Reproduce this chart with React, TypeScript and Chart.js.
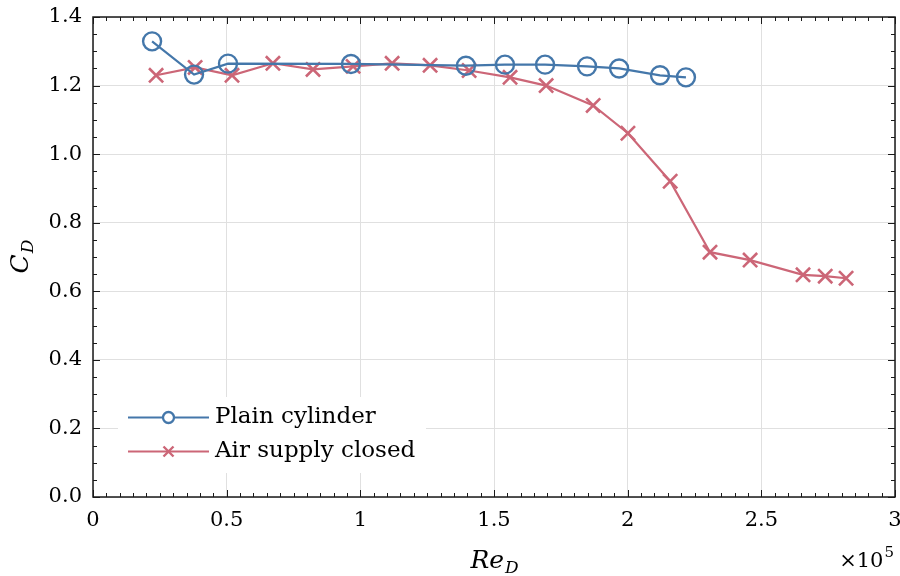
import React, { useEffect, useRef } from 'react';
import { Chart, registerables } from 'chart.js';

Chart.register(...registerables);

// ---- data ----
const plainRe = [22100, 37800, 50500, 96500, 139500, 154100, 169100, 184800, 196800, 212100, 221800];
const plainCd = [1.329, 1.232, 1.264, 1.263, 1.258, 1.261, 1.261, 1.256, 1.250, 1.230, 1.224];

const airRe = [23600, 38200, 52000, 67300, 82300, 97300, 111900, 126100, 140700, 156000, 169500, 187100, 200100, 215900, 230800, 245800, 265600, 273900, 281700];
const airCd = [1.230, 1.253, 1.230, 1.265, 1.247, 1.256, 1.265, 1.259, 1.244, 1.224, 1.200, 1.142, 1.061, 0.921, 0.714, 0.691, 0.648, 0.644, 0.638];

const seriesLabels = ['Plain cylinder', 'Air supply closed'];
const xMin = 0, xMax = 300000, xStep = 50000, xMinorStep = 5000;
const yMin = 0, yMax = 1.4, yStep = 0.2, yMinorStep = 0.05;
const xScaleExp = 5;

const BLUE = '#4477AA';
const RED = '#CC6677';
const AXIS = '#1a1a1a';
const TEXT = '#000000';
const SERIF = '"DejaVu Serif", serif';

const decorPlugin = {
  id: 'decor',
  afterDatasetsDraw(chart: any) {
    const { ctx, chartArea: a, scales } = chart;
    const x = scales.x, y = scales.y;
    ctx.save();

    // legend (white box, line + marker, text)
    const bx = a.left + 25, by = a.bottom - 100, bw = 308, bh = 76;
    ctx.fillStyle = '#ffffff';
    ctx.fillRect(bx, by, bw, bh);
    const rows = [
      { label: seriesLabels[0], color: BLUE, style: 'circle', yy: a.bottom - 79.5 },
      { label: seriesLabels[1], color: RED, style: 'cross', yy: a.bottom - 45.5 },
    ];
    rows.forEach((r) => {
      const x0 = a.left + 35, x1 = a.left + 116, xm = (x0 + x1) / 2;
      ctx.strokeStyle = r.color;
      ctx.lineWidth = 2;
      ctx.beginPath();
      ctx.moveTo(x0, r.yy);
      ctx.lineTo(x1, r.yy);
      ctx.stroke();
      if (r.style === 'circle') {
        ctx.fillStyle = '#ffffff';
        ctx.beginPath();
        ctx.arc(xm, r.yy, 5.5, 0, Math.PI * 2);
        ctx.fill();
        ctx.lineWidth = 2.3;
        ctx.stroke();
      } else {
        const d = 5;
        ctx.lineWidth = 2.4;
        ctx.beginPath();
        ctx.moveTo(xm - d, r.yy - d); ctx.lineTo(xm + d, r.yy + d);
        ctx.moveTo(xm + d, r.yy - d); ctx.lineTo(xm - d, r.yy + d);
        ctx.stroke();
      }
      ctx.fillStyle = TEXT;
      ctx.font = `23px ${SERIF}`;
      ctx.textAlign = 'left';
      ctx.textBaseline = 'middle';
      ctx.fillText(r.label, a.left + 122, r.yy);
    });

    // inward ticks
    ctx.strokeStyle = AXIS;
    ctx.lineWidth = 1;
    const nx = Math.round((xMax - xMin) / xMinorStep);
    for (let i = 0; i <= nx; i++) {
      const v = xMin + i * xMinorStep;
      const px = Math.round(x.getPixelForValue(v)) + 0.5;
      const len = i % Math.round(xStep / xMinorStep) === 0 ? 7 : 4;
      ctx.beginPath();
      ctx.moveTo(px, a.bottom); ctx.lineTo(px, a.bottom - len);
      ctx.moveTo(px, a.top); ctx.lineTo(px, a.top + len);
      ctx.stroke();
    }
    const ny = Math.round((yMax - yMin) / yMinorStep);
    for (let i = 0; i <= ny; i++) {
      const v = yMin + i * yMinorStep;
      const py = Math.round(y.getPixelForValue(v)) + 0.5;
      const len = i % Math.round(yStep / yMinorStep) === 0 ? 7 : 4;
      ctx.beginPath();
      ctx.moveTo(a.left, py); ctx.lineTo(a.left + len, py);
      ctx.moveTo(a.right, py); ctx.lineTo(a.right - len, py);
      ctx.stroke();
    }

    // frame
    ctx.lineWidth = 1.5;
    ctx.strokeRect(a.left, a.top, a.right - a.left, a.bottom - a.top);

    // axis titles
    ctx.fillStyle = TEXT;
    ctx.textBaseline = 'alphabetic';
    ctx.textAlign = 'left';
    const mainF = `italic 25px ${SERIF}`;
    const subF = `italic 17px ${SERIF}`;
    // x title: Re_D
    ctx.font = mainF;
    const wRe = ctx.measureText('Re').width;
    ctx.font = subF;
    const wD = ctx.measureText('D').width;
    const cx = (a.left + a.right) / 2;
    const sx = cx - (wRe + wD) / 2;
    ctx.font = mainF;
    ctx.fillText('Re', sx, a.bottom + 71);
    ctx.font = subF;
    ctx.fillText('D', sx + wRe + 1, a.bottom + 76);

    // y title: C_D
    ctx.save();
    ctx.translate(28, (a.top + a.bottom) / 2);
    ctx.rotate(-Math.PI / 2);
    ctx.font = mainF;
    const wC = ctx.measureText('C').width;
    const sy = -(wC + wD) / 2;
    ctx.fillText('C', sy, 0);
    ctx.font = subF;
    ctx.fillText('D', sy + wC + 1, 5);
    ctx.restore();

    // exponent label
    ctx.font = `15px ${SERIF}`;
    const w5 = ctx.measureText(String(xScaleExp)).width;
    ctx.textAlign = 'right';
    ctx.fillText(String(xScaleExp), a.right - 1, a.bottom + 60);
    ctx.font = `21px ${SERIF}`;
    ctx.fillText('\u00d710', a.right - 2 - w5, a.bottom + 70);

    ctx.restore();
  },
};

export default function App() {
  const ref = useRef<HTMLCanvasElement | null>(null);

  useEffect(() => {
    document.body.style.margin = '0';
    if (!ref.current) return;
    const chart = new Chart(ref.current, {
      type: 'line',
      data: {
        datasets: [
          {
            label: seriesLabels[0],
            data: plainRe.map((v, i) => ({ x: v, y: plainCd[i] })),
            borderColor: BLUE,
            backgroundColor: 'rgba(0,0,0,0)',
            borderWidth: 2.2,
            pointStyle: 'circle',
            pointRadius: 9,
            pointBorderWidth: 2.4,
            pointBorderColor: BLUE,
            pointBackgroundColor: 'rgba(0,0,0,0)',
            tension: 0,
          },
          {
            label: seriesLabels[1],
            data: airRe.map((v, i) => ({ x: v, y: airCd[i] })),
            borderColor: RED,
            backgroundColor: RED,
            borderWidth: 2.2,
            pointStyle: 'crossRot',
            pointRadius: 10,
            pointBorderWidth: 2.6,
            pointBorderColor: RED,
            tension: 0,
          },
        ],
      },
      options: {
        responsive: false,
        animation: false,
        layout: { autoPadding: false, padding: { top: 17, right: 5, left: 0, bottom: 0 } },
        plugins: {
          legend: { display: false },
          tooltip: { enabled: false },
        },
        scales: {
          x: {
            type: 'linear',
            min: xMin,
            max: xMax,
            ticks: {
              stepSize: xStep,
              padding: 11,
              color: TEXT,
              font: { family: SERIF, size: 21 },
              maxRotation: 0,
              callback: (v: any) => String(Number((v / Math.pow(10, xScaleExp)).toFixed(2))),
            },
            grid: { color: '#e0e0e0', lineWidth: 1, drawTicks: false },
            border: { display: false },
            afterFit: (s: any) => {
              s.height = 79;
              s.paddingLeft = 0; s.paddingRight = 0; s.paddingTop = 0; s.paddingBottom = 0;
            },
          },
          y: {
            type: 'linear',
            min: yMin,
            max: yMax,
            ticks: {
              stepSize: yStep,
              padding: 11,
              color: TEXT,
              font: { family: SERIF, size: 21 },
              callback: (v: any) => Number(v).toFixed(1),
            },
            grid: { color: '#e0e0e0', lineWidth: 1, drawTicks: false },
            border: { display: false },
            afterFit: (s: any) => {
              s.width = 93;
              s.paddingLeft = 0; s.paddingRight = 0; s.paddingTop = 0; s.paddingBottom = 0;
            },
          },
        },
      },
      plugins: [decorPlugin],
    });
    return () => chart.destroy();
  }, []);

  return (
    <div style={{ width: 900, height: 576 }}>
      <canvas ref={ref} width={900} height={576} style={{ display: 'block' }} />
    </div>
  );
}
